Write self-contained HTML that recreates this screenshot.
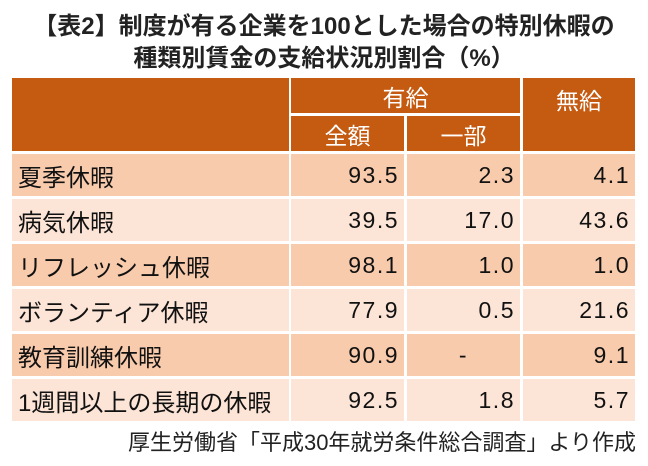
<!DOCTYPE html>
<html><head><meta charset="utf-8">
<style>
body{margin:0;width:648px;height:466px;background:#fff;position:relative;overflow:hidden;font-family:"Liberation Sans","Noto Sans CJK JP",sans-serif;}
.t{position:absolute;left:0;width:648px;text-align:center;font-weight:bold;font-size:24px;color:#222;white-space:nowrap;}
.c{position:absolute;box-sizing:border-box;display:flex;align-items:center;font-size:23px;color:#111;white-space:nowrap;}
.h{background:#C55A11;color:#fff;justify-content:center;}
.o{background:#F8CBAD;}
.e{background:#FCE4D6;}
.l{padding-left:6px;font-size:24px;}
.r{justify-content:flex-end;padding-right:5px;letter-spacing:1.5px;}
.f{position:absolute;right:12px;top:425px;font-size:22px;color:#222;white-space:nowrap;}
</style></head><body>
<div class="t" style="top:6px">【表2】制度が有る企業を100とした場合の特別休暇の</div>
<div class="t" style="top:38px">種類別賃金の支給状況別割合（%）</div>
<div>
<div class="c h" style="left:12px;top:78px;width:277px;height:73px"></div>
<div class="c h" style="left:291px;top:78px;width:229px;height:35px">有給</div>
<div class="c h" style="left:523px;top:78px;width:112px;height:73px;align-items:flex-start;padding-top:4px">無給</div>
<div class="c h" style="left:291px;top:116px;width:113px;height:35px">全額</div>
<div class="c h" style="left:407px;top:116px;width:113px;height:35px">一部</div>
</div>
<div id="rows"></div>
<div class="f">厚生労働省「平成30年就労条件総合調査」より作成</div>
<script>
const labels=["夏季休暇","病気休暇","リフレッシュ休暇","ボランティア休暇","教育訓練休暇","1週間以上の長期の休暇"];
const fullPay=["93.5","39.5","98.1","77.9","90.9","92.5"];
const partialPay=["2.3","17.0","1.0","0.5","-","1.8"];
const unpaid=["4.1","43.6","1.0","21.6","9.1","5.7"];
const rows=document.getElementById('rows');
const cols=[[12,277],[291,113],[407,113],[523,112]];
labels.forEach((lab,i)=>{
  const top=154+i*45;
  const vals=[lab,fullPay[i],partialPay[i],unpaid[i]];
  const names=['row-label','full-pay-cell','partial-pay-cell','unpaid-cell'];
  vals.forEach((v,j)=>{
    const d=document.createElement('div');
    d.className='c '+(i%2?'e':'o')+' '+(j===0?'l':'r');
    if(j===2&&v==='-'){d.style.justifyContent='center';d.style.paddingRight='0';}
    d.style.left=cols[j][0]+'px';d.style.width=cols[j][1]+'px';
    d.style.top=top+'px';d.style.height='42px';
    d.textContent=v;
    
    
    rows.appendChild(d);
  });
});
</script>
</body></html>
